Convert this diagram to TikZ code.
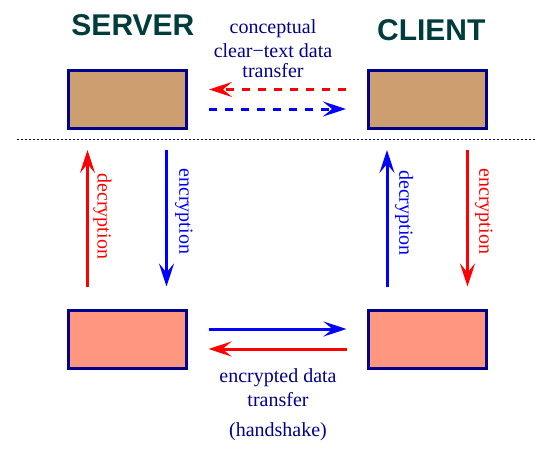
\documentclass[tikz,border=0pt]{standalone}
\usepackage{fontspec}
\setmainfont{Liberation Serif}
\newfontfamily\titlefont{Liberation Sans}
\usetikzlibrary{arrows.meta}
\definecolor{navy}{RGB}{0,0,140}
\definecolor{titlecol}{RGB}{0,60,60}
\definecolor{tanfill}{RGB}{205,158,112}
\definecolor{salmonfill}{RGB}{255,150,128}
\begin{document}
\begin{tikzpicture}[x=1pt,y=-1pt,
 box/.style={draw=navy, line width=3pt, minimum width=118pt, minimum height=58pt, inner sep=0pt},
 topbox/.style={box, fill=tanfill},
 botbox/.style={box, fill=salmonfill},
 conn/.style={line width=3pt, -{Stealth[length=23pt,width=15pt,inset=9pt]}},
 dashconn/.style={conn, dash pattern=on 8pt off 8pt},
 titletext/.style={font=\titlefont\bfseries\fontsize{30}{36}\selectfont, text=titlecol, inner sep=0pt, anchor=base},
 lbl/.style={font=\fontsize{20}{24}\selectfont, text=navy, align=center, inner sep=0pt},
 vlbl/.style={font=\fontsize{20}{24}\selectfont, rotate=-90, anchor=base west, inner sep=0pt},
 sepline/.style={draw=navy, line width=1pt, dash pattern=on 1.5pt off 2.5pt},
]
\useasboundingbox (0,0) rectangle (547,467);
% boxes
\node[topbox] (tl) at (127.5,99.5) {};
\node[topbox] (tr) at (427.5,99.5) {};
\node[botbox] (bl) at (127.5,339) {};
\node[botbox] (br) at (427.5,339) {};
% titles
\node[titletext] (srv) at (132.9,35) {SERVER};
\node[titletext] (cli) at (431.3,40) {CLIENT};
% text blocks
\node[lbl] (ct) at (273,49) {conceptual\\ clear−text data\\[-4pt] transfer};
\node[lbl] (et) at (278,405) {encrypted data\\ transfer\\[6pt] (handshake)};
% separator
\coordinate (sepL) at (17,139);
\coordinate (sepR) at (535,139);
\draw[sepline] (sepL) -- (sepR);
% conceptual transfer
\draw[dashconn, red, shorten <=21pt, shorten >=21pt] ([yshift=10pt]tr.west) -- ([yshift=10pt]tl.east);
\draw[dashconn, blue, shorten <=21pt, shorten >=21pt] ([yshift=-9.5pt]tl.east) -- ([yshift=-9.5pt]tr.west);
% encrypted transfer
\draw[conn, blue, shorten <=20.5pt, shorten >=20.5pt] ([yshift=10pt]bl.east) -- ([yshift=10pt]br.west);
\draw[conn, red, shorten <=20.5pt, shorten >=20.5pt] ([yshift=-10pt]br.west) -- ([yshift=-10pt]bl.east);
% vertical arrows
\draw[conn, red, shorten <=22pt, shorten >=20pt] ([xshift=-40pt]bl.north) -- ([xshift=-40pt]tl.south);
\draw[conn, blue, shorten <=20pt, shorten >=22pt] ([xshift=39pt]tl.south) -- ([xshift=39pt]bl.north);
\draw[conn, blue, shorten <=22pt, shorten >=20pt] ([xshift=-40.5pt]br.north) -- ([xshift=-40.5pt]tr.south);
\draw[conn, red, shorten <=20pt, shorten >=22pt] ([xshift=40pt]tr.south) -- ([xshift=40pt]br.north);
% vertical labels
\node[vlbl, text=red] (sdec) at (97.6,173.3) {decryption};
\node[vlbl, text=blue] (senc) at (179.3,168.3) {encryption};
\node[vlbl, text=blue] (cdec) at (399.3,170) {decryption};
\node[vlbl, text=red] (cenc) at (479.3,168.3) {encryption};
\end{tikzpicture}
\end{document}
